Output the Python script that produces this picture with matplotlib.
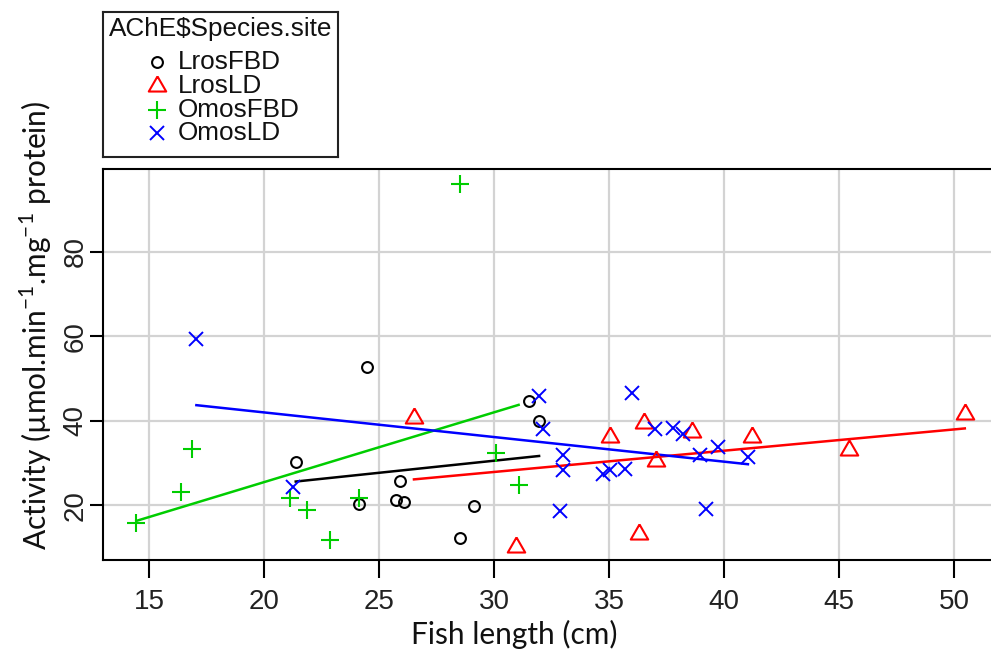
import numpy as np
import matplotlib
matplotlib.use("Agg")
import matplotlib.pyplot as plt

# ---- data: fish length (cm) vs AChE activity, by species/site ----
groups = ["LrosFBD", "LrosLD", "OmosFBD", "OmosLD"]

lros_fbd_len = [21.38, 24.48, 24.12, 25.90, 25.76, 26.07, 29.13, 28.50, 31.52, 31.96]
lros_fbd_act = [30.4, 52.65, 20.4, 25.7, 21.35, 20.9, 19.8, 12.25, 44.7, 39.9]

lros_ld_len = [26.52, 30.97, 35.03, 36.52, 37.06, 36.29, 38.61, 41.22, 45.43, 50.47]
lros_ld_act = [40.6, 10.25, 36.1, 39.4, 30.6, 13.2, 37.3, 36.3, 33.2, 41.6]

omos_fbd_len = [28.50, 16.87, 16.37, 14.45, 21.12, 21.87, 22.89, 24.12, 30.07, 31.07]
omos_fbd_act = [96.1, 33.4, 23.3, 15.9, 21.7, 19.0, 11.9, 21.7, 32.4, 24.9]

omos_ld_len = [17.06, 21.26, 31.96, 32.13, 33.00, 33.00, 32.86, 34.74, 35.03,
               35.68, 36.00, 37.00, 37.78, 38.20, 38.97, 39.74, 41.04, 39.23]
omos_ld_act = [59.5, 24.3, 45.9, 38.2, 32.0, 28.5, 18.65, 27.35, 28.3,
               28.7, 46.7, 38.2, 38.4, 37.0, 31.9, 33.8, 31.45, 19.05]

x_ticks = [15, 20, 25, 30, 35, 40, 45, 50]
y_ticks = [20, 40, 60, 80]

# ---- styling (R base-graphics palette) ----
colors = ["#000000", "#FF0000", "#00CD00", "#0000FF"]
tri = [(0, 1), (-0.866, -0.5), (0.866, -0.5), (0, 1)]
marker_styles = [
    dict(marker="o", ms=7.8, mfc="none", mew=1.5),
    dict(marker=tri, ms=14.5, mfc="none", mew=1.5),
    dict(marker="+", ms=12.5, mew=1.5),
    dict(marker="x", ms=9.5, mew=1.4),
]
series = [
    (lros_fbd_len, lros_fbd_act),
    (lros_ld_len, lros_ld_act),
    (omos_fbd_len, omos_fbd_act),
    (omos_ld_len, omos_ld_act),
]

W, H = 991, 657
fig = plt.figure(figsize=(W / 100, H / 100), dpi=100)
fig.patch.set_facecolor("white")

tick_font = ["Liberation Sans Narrow", "Liberation Sans"]
label_font = ["Lato", "DejaVu Sans"]

# main plot region (right border runs just past the figure edge)
ax_l, ax_r, ax_t, ax_b = 103, 997.7, 169, 560
ax = fig.add_axes([ax_l / W, (H - ax_b) / H, (ax_r - ax_l) / W, (ax_b - ax_t) / H])
ax.set_xlim(13.0, 51.9)
ax.set_ylim(7.1, 99.6)

ax.set_xticks(x_ticks)
ax.set_yticks(y_ticks)
ax.grid(True, color="#D3D3D3", lw=1.6, zorder=0)
ax.set_axisbelow(True)

for s in ["left", "top", "bottom", "right"]:
    ax.spines[s].set_linewidth(1.5)
    ax.spines[s].set_color("black")

ax.tick_params(axis="x", direction="out", length=13, width=1.5, pad=8,
               labelsize=20)
ax.tick_params(axis="y", direction="out", length=9.5, width=1.5, pad=1,
               labelsize=20)
for lab in ax.get_xticklabels():
    lab.set_family(tick_font)
    lab.set_color("#222222")
for lab in ax.get_yticklabels():
    lab.set_family(tick_font)
    lab.set_rotation(90)
    lab.set_va("center")
    lab.set_color("#222222")

# points + least-squares fit for each group
for (xs, ys), c, st in zip(series, colors, marker_styles):
    xs = np.asarray(xs, float)
    ys = np.asarray(ys, float)
    ax.plot(xs, ys, ls="none", color=c, mec=c, zorder=3, **st)
    slope, icpt = np.polyfit(xs, ys, 1)
    xr = np.array([xs.min(), xs.max()])
    ax.plot(xr, icpt + slope * xr, color=c, lw=1.8, zorder=2)

fig.text(514 / W, 1 - 634 / H, "Fish length (cm)", ha="center", va="center",
         family=label_font, fontsize=21.5, color="#111111")
fig.text(36 / W, 1 - 325 / H,
         r"Activity (µmol.min$^{\mathregular{-1}}$.mg$^{\mathregular{-1}}$ protein)",
         rotation=90, ha="center", va="center", family=label_font,
         fontsize=21.5, color="#111111")

# legend box above the plot
lg_l, lg_t, lg_w, lg_h = 103, 12, 235, 145
lax = fig.add_axes([lg_l / W, (H - lg_t - lg_h) / H, lg_w / W, lg_h / H])
lax.set_xlim(0, lg_w)
lax.set_ylim(lg_h, 0)
lax.set_xticks([])
lax.set_yticks([])
for s in lax.spines.values():
    s.set_linewidth(1.5)
    s.set_color("#222222")
lax.text(lg_w / 2, 17, "AChE$Species.site", ha="center", va="center",
         family=["Liberation Sans"], fontsize=18.8, color="#111111")
row_y = [50, 74, 98, 121]
for name, c, st, yy in zip(groups, colors, marker_styles, row_y):
    lax.plot([54], [yy], ls="none", color=c, mec=c, **st)
    lax.text(75, yy, name, ha="left", va="center",
             family=["Liberation Sans"], fontsize=18.8, color="#111111")

fig.savefig("out.png", dpi=100, facecolor="white")
